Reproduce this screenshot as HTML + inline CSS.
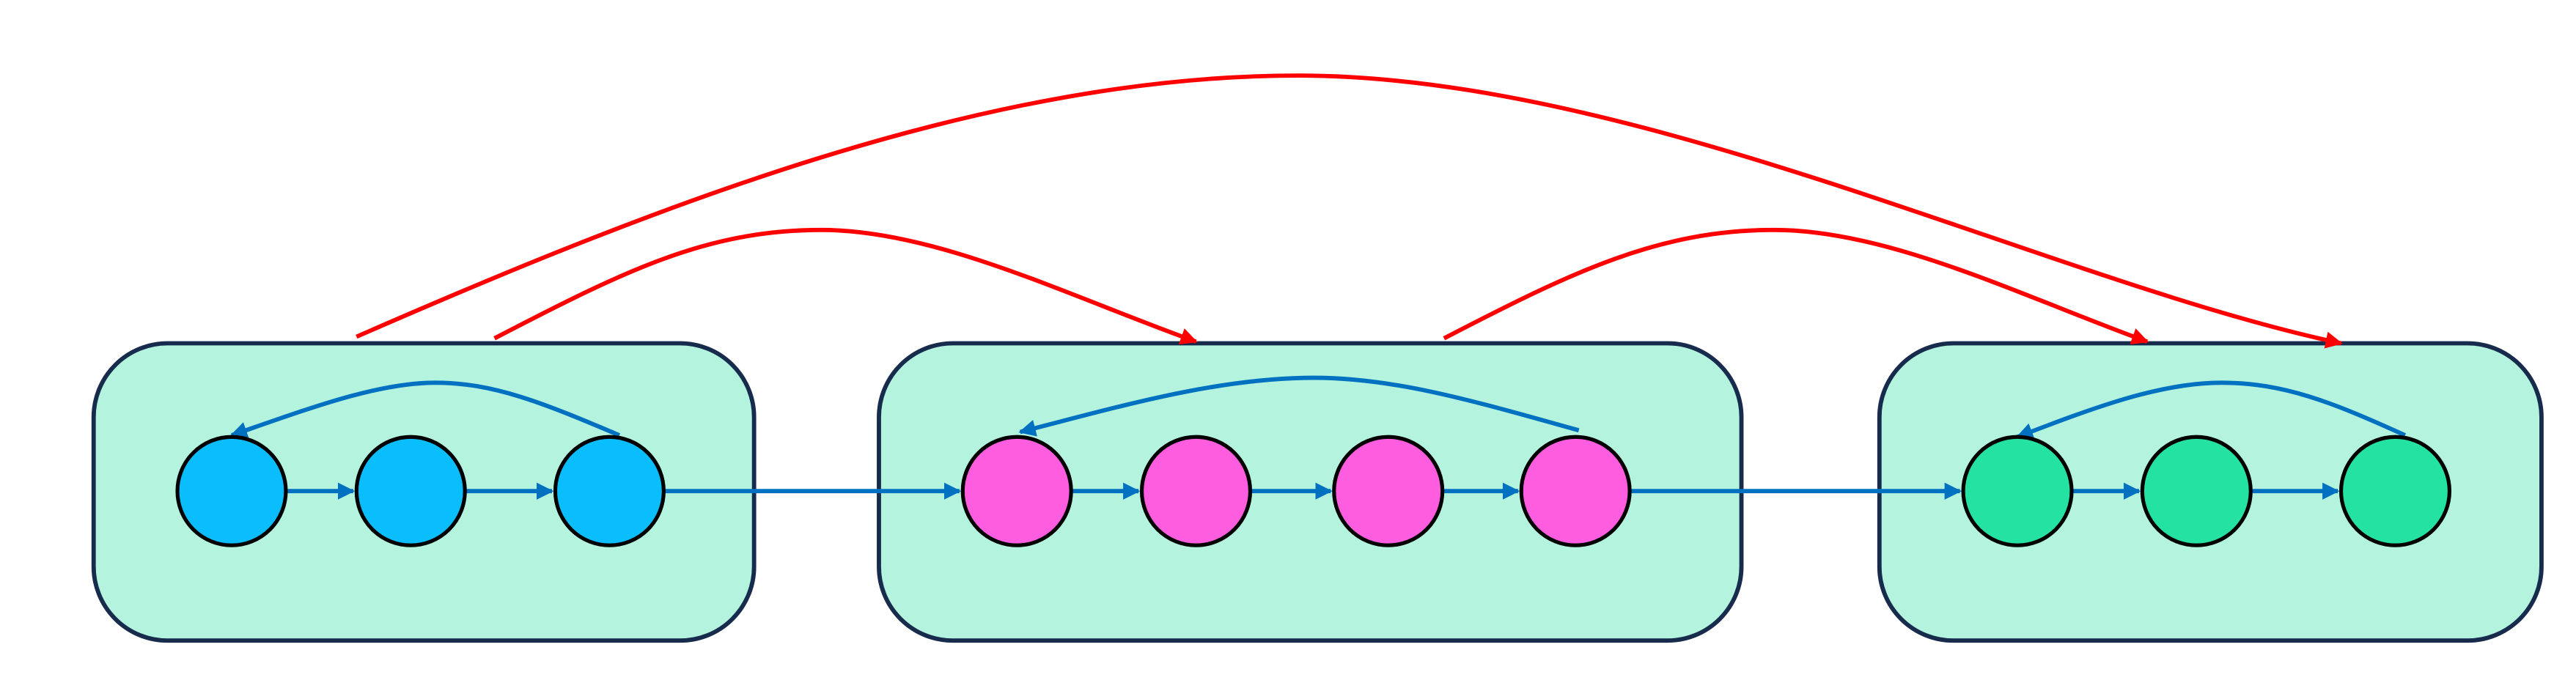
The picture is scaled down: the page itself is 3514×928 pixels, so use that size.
<!DOCTYPE html>
<html><head><meta charset="utf-8"><style>html,body{margin:0;padding:0;background:#fff;}svg{display:block}</style></head>
<body>
<svg width="3514" height="928" viewBox="0 0 1568 414" preserveAspectRatio="none" xmlns="http://www.w3.org/2000/svg">
<defs>
<marker id="ab" viewBox="0 0 10 10" refX="9" refY="5" markerWidth="4" markerHeight="4" orient="auto" markerUnits="strokeWidth"><path d="M0,0 L10,5 L0,10 z" fill="#0070c0"/></marker>
<marker id="ar" viewBox="0 0 10 10" refX="9" refY="5" markerWidth="4" markerHeight="4" orient="auto" markerUnits="strokeWidth"><path d="M0,0 L10,5 L0,10 z" fill="#ff0000"/></marker>
</defs>
<g fill="#b4f3de" stroke="#172b4d" stroke-width="2.6">
<rect x="57" y="209" width="402" height="181" rx="45" ry="45"/>
<rect x="535" y="209" width="525" height="181" rx="45" ry="45"/>
<rect x="1144" y="209" width="403" height="181" rx="45" ry="45"/>
</g>
<g stroke="#0070c0" stroke-width="2.6" fill="none" marker-end="url(#ab)">
<line x1="175" y1="299" x2="215" y2="299"/>
<line x1="284" y1="299" x2="336" y2="299"/>
<line x1="405" y1="299" x2="584" y2="299"/>
<line x1="653" y1="299" x2="693" y2="299"/>
<line x1="762" y1="299" x2="810" y2="299"/>
<line x1="879" y1="299" x2="924" y2="299"/>
<line x1="993" y1="299" x2="1193" y2="299"/>
<line x1="1262" y1="299" x2="1302" y2="299"/>
<line x1="1371" y1="299" x2="1423" y2="299"/>
<path d="M377,265 C330,245 300,233 265,233 C230,233 190,248 141,265"/>
<path d="M961,262 C900,245 850,230 800,230 C740,230 680,248 621,263"/>
<path d="M1464,265 C1420,245 1390,233 1352,233 C1315,233 1275,248 1228,266"/>
</g>
<g stroke="#000" stroke-width="2.3">
<circle cx="141" cy="299" r="33" fill="#0abdfc"/>
<circle cx="250" cy="299" r="33" fill="#0abdfc"/>
<circle cx="371" cy="299" r="33" fill="#0abdfc"/>
<circle cx="619" cy="299" r="33" fill="#ff5ddf"/>
<circle cx="728" cy="299" r="33" fill="#ff5ddf"/>
<circle cx="845" cy="299" r="33" fill="#ff5ddf"/>
<circle cx="959" cy="299" r="33" fill="#ff5ddf"/>
<circle cx="1228" cy="299" r="33" fill="#24e2a2"/>
<circle cx="1337" cy="299" r="33" fill="#24e2a2"/>
<circle cx="1458" cy="299" r="33" fill="#24e2a2"/>
</g>
<g stroke="#ff0000" stroke-width="2.6" fill="none" marker-end="url(#ar)">
<path d="M217,205 C400,125 600,46 790,46 C1000,46 1250,172 1425,209"/>
<path d="M301,206 C380,165 430,140 500,140 C570,140 650,180 728,208"/>
<path d="M879,206 C958,165 1010,140 1080,140 C1150,140 1230,180 1307,208"/>
</g>
</svg>
</body></html>
